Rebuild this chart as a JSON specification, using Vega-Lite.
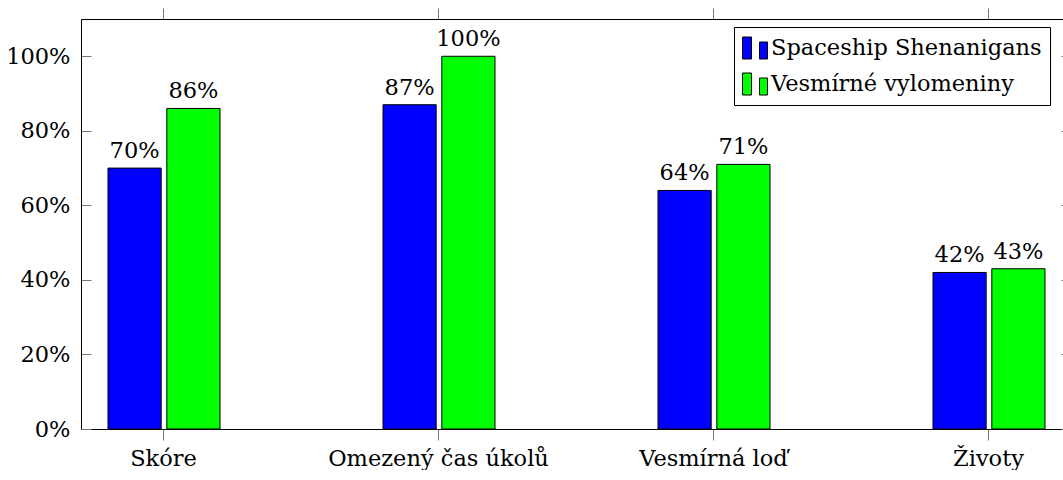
{
  "$schema": "https://vega.github.io/schema/vega-lite/v6.json",
  "width": 990,
  "height": 410,
  "padding": {"left": 5, "top": 0, "right": 0, "bottom": 0},
  "background": "white",
  "config": {
    "font": "DejaVu Serif",
    "view": {"stroke": "black", "strokeWidth": 1},
    "axis": {"grid": false, "domain": false, "labelFont": "DejaVu Serif", "labelFontSize": 22.5, "labelColor": "black", "tickColor": "#777", "tickWidth": 1, "labelLimit": 0}
  },
  "data": {
    "values": [
      {"category": "Skóre", "series": "Spaceship Shenanigans", "value": 0.70},
      {"category": "Skóre", "series": "Vesmírné vylomeniny", "value": 0.86},
      {"category": "Omezený čas úkolů", "series": "Spaceship Shenanigans", "value": 0.87},
      {"category": "Omezený čas úkolů", "series": "Vesmírné vylomeniny", "value": 1.00},
      {"category": "Vesmírná loď", "series": "Spaceship Shenanigans", "value": 0.64},
      {"category": "Vesmírná loď", "series": "Vesmírné vylomeniny", "value": 0.71},
      {"category": "Životy", "series": "Spaceship Shenanigans", "value": 0.42},
      {"category": "Životy", "series": "Vesmírné vylomeniny", "value": 0.43}
    ]
  },
  "layer": [
    {
      "mark": {"type": "bar", "stroke": "black", "strokeWidth": 1},
      "encoding": {
        "x": {"field": "category", "type": "nominal", "sort": null, "title": null,
              "scale": {"paddingInner": 0, "paddingOuter": 0, "range": [-55, 1045]},
              "axis": {"orient": "bottom", "labelAngle": 0, "tickSize": 11, "labelPadding": 7}},
        "xOffset": {"field": "series", "type": "nominal", "sort": null,
                    "scale": {"paddingInner": 0.096, "paddingOuter": 0, "range": [82, 194]}},
        "y": {"field": "value", "type": "quantitative", "title": null,
              "scale": {"domain": [0, 1.1], "nice": false, "zero": true},
              "axis": {"orient": "left", "values": [0, 0.2, 0.4, 0.6, 0.8, 1.0], "format": ".0%", "tickSize": -10, "labelPadding": 21, "minExtent": 75, "maxExtent": 75}},
        "color": {"field": "series", "type": "nominal", "sort": null,
                  "scale": {"domain": ["Spaceship Shenanigans", "Vesmírné vylomeniny"], "range": ["#0000ff", "#00ff00"]},
                  "legend": {"title": null, "orient": "none", "legendX": 653, "legendY": 8,
                             "strokeColor": "black", "fillColor": "white", "padding": 8, "rowPadding": 10,
                             "symbolType": "M-1,-0.88L-0.28,-0.88L-0.28,0.88L-1,0.88Z M0.36,-0.48L1,-0.48L1,0.88L0.36,0.88Z",
                             "symbolSize": 625, "symbolStrokeColor": "black", "symbolStrokeWidth": 1,
                             "labelFont": "DejaVu Serif", "labelFontSize": 22.5, "labelColor": "black", "labelOffset": 3, "labelLimit": 0}}
      }
    },
    {
      "mark": {"type": "text", "baseline": "alphabetic", "dy": -10, "fontSize": 22.5, "font": "DejaVu Serif", "color": "black"},
      "encoding": {
        "x": {"field": "category", "type": "nominal", "sort": null, "title": null,
              "axis": {"orient": "top", "labels": false, "tickSize": 11, "minExtent": 19, "maxExtent": 19}},
        "xOffset": {"field": "series", "type": "nominal", "sort": null},
        "y": {"field": "value", "type": "quantitative", "title": null,
              "axis": {"orient": "right", "labels": false, "values": [0, 0.2, 0.4, 0.6, 0.8, 1.0], "tickSize": -10}},
        "text": {"field": "value", "type": "quantitative", "format": ".0%"}
      }
    }
  ]
}
